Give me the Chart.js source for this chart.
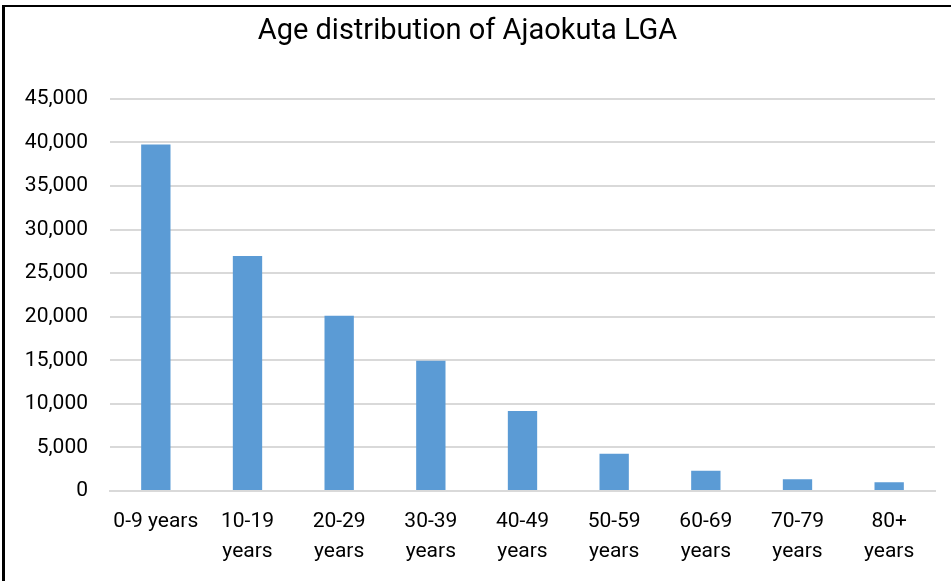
<!DOCTYPE html>
<html>
<head>
<meta charset="utf-8">
<script src="https://cdn.jsdelivr.net/npm/chart.js@4/dist/chart.umd.min.js"></script>
<style>
  html, body { margin: 0; padding: 0; background: #fff; }
  #wrap { position: relative; width: 951px; height: 581px; }
  #frame { position: absolute; left: 2px; top: 5px; right: 0; bottom: -10px;
           border-left: 3px solid #000; border-top: 2px solid #000; pointer-events: none; }
</style>
</head>
<body>
<div id="wrap">
  <canvas id="ageChart" width="951" height="581"></canvas>
  <div id="frame"></div>
</div>
<script>
// chart data
var categories = ['0-9 years', ['10-19', 'years'], ['20-29', 'years'], ['30-39', 'years'],
  ['40-49', 'years'], ['50-59', 'years'], ['60-69', 'years'], ['70-79', 'years'], ['80+', 'years']];
var population = [39750, 26950, 20100, 14950, 9180, 4260, 2310, 1350, 1010];
var yTicks = [0, 5000, 10000, 15000, 20000, 25000, 30000, 35000, 40000, 45000];

var fontFamily = "'Roboto', 'Liberation Sans', sans-serif";

var ctx = document.getElementById('ageChart').getContext('2d');
new Chart(ctx, {
  type: 'bar',
  data: {
    labels: categories,
    datasets: [{
      data: population,
      backgroundColor: '#5b9bd5',
      borderWidth: 0,
      barPercentage: 0.32,
      categoryPercentage: 1
    }]
  },
  options: {
    responsive: false,
    animation: false,
    layout: { padding: { left: 0, right: 16, top: 0, bottom: 0 } },
    scales: {
      x: {
        grid: { display: false, drawTicks: false },
        border: { display: true, color: '#d9d9d9', width: 2 },
        ticks: {
          color: '#000',
          maxRotation: 0,
          autoSkip: false,
          padding: 16,
          font: { family: fontFamily, size: 21, lineHeight: 1.43 }
        },
        afterFit: function (scale) { scale.height = 90; }
      },
      y: {
        min: 0,
        max: 45000,
        grid: { color: '#d9d9d9', lineWidth: 2, drawTicks: false },
        border: { display: false },
        afterBuildTicks: function (scale) {
          scale.ticks = yTicks.map(function (v) { return { value: v }; });
        },
        ticks: {
          color: '#000',
          padding: 22,
          font: { family: fontFamily, size: 21 },
          callback: function (v) { return v.toLocaleString('en-US'); }
        },
        afterFit: function (scale) { scale.width = 110; }
      }
    },
    plugins: {
      legend: { display: false },
      tooltip: { enabled: false },
      title: {
        display: true,
        text: 'Age distribution of Ajaokuta LGA',
        color: '#000',
        font: { family: fontFamily, size: 29, weight: 'normal', lineHeight: 1.2 },
        padding: { top: 14, bottom: 50 }
      }
    }
  }
});
</script>
</body>
</html>
